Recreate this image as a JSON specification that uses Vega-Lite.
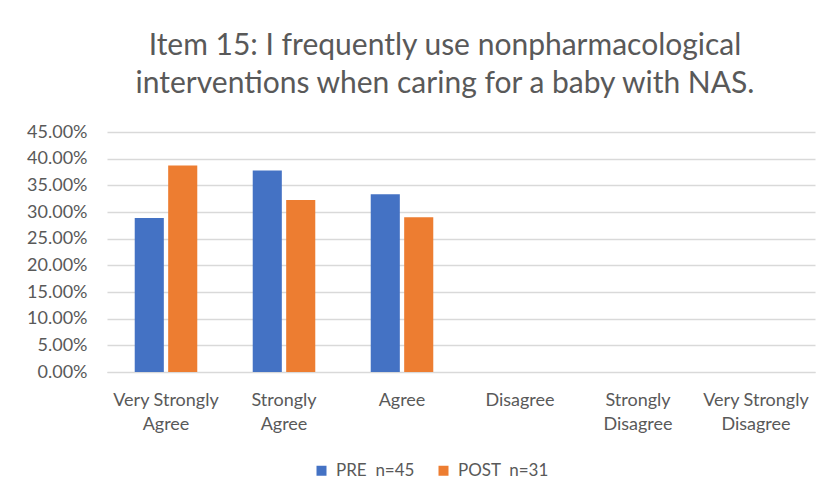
{
  "$schema": "https://vega.github.io/schema/vega-lite/v6.json",
  "autosize": "none",
  "width": 708,
  "height": 240,
  "padding": {"left": 107, "top": 132, "right": 18, "bottom": 129},
  "background": "white",
  "title": {
    "text": ["Item 15: I frequently use nonpharmacological", "interventions when caring for a baby with NAS."],
    "font": "Lato",
    "fontSize": 30,
    "fontWeight": "normal",
    "color": "#595959",
    "lineHeight": 38,
    "anchor": "middle",
    "dx": -16,
    "offset": 24
  },
  "data": {
    "values": [
      {"response": "Very Strongly Agree", "group": "PRE\u00a0 n=45", "pct": 0.2889},
      {"response": "Very Strongly Agree", "group": "POST\u00a0 n=31", "pct": 0.3871},
      {"response": "Strongly Agree", "group": "PRE\u00a0 n=45", "pct": 0.3778},
      {"response": "Strongly Agree", "group": "POST\u00a0 n=31", "pct": 0.3226},
      {"response": "Agree", "group": "PRE\u00a0 n=45", "pct": 0.3333},
      {"response": "Agree", "group": "POST\u00a0 n=31", "pct": 0.2903},
      {"response": "Disagree", "group": "PRE\u00a0 n=45", "pct": 0},
      {"response": "Disagree", "group": "POST\u00a0 n=31", "pct": 0},
      {"response": "Strongly Disagree", "group": "PRE\u00a0 n=45", "pct": 0},
      {"response": "Strongly Disagree", "group": "POST\u00a0 n=31", "pct": 0},
      {"response": "Very Strongly Disagree", "group": "PRE\u00a0 n=45", "pct": 0},
      {"response": "Very Strongly Disagree", "group": "POST\u00a0 n=31", "pct": 0}
    ]
  },
  "mark": {"type": "bar"},
  "encoding": {
    "x": {
      "field": "response",
      "type": "nominal",
      "sort": ["Very Strongly Agree", "Strongly Agree", "Agree", "Disagree", "Strongly Disagree", "Very Strongly Disagree"],
      "scale": {"paddingInner": 0.47, "paddingOuter": 0.235},
      "axis": {
        "title": null,
        "labelAngle": 0,
        "labelFont": "Lato",
        "labelFontSize": 18,
        "labelColor": "#595959",
        "labelLineHeight": 24,
        "labelPadding": 19,
        "ticks": false,
        "domainColor": "#d9d9d9",
        "labelExpr": "datum.value == 'Very Strongly Agree' ? ['Very Strongly', 'Agree'] : datum.value == 'Strongly Agree' ? ['Strongly', 'Agree'] : datum.value == 'Strongly Disagree' ? ['Strongly', 'Disagree'] : datum.value == 'Very Strongly Disagree' ? ['Very Strongly', 'Disagree'] : datum.value"
      }
    },
    "xOffset": {
      "field": "group",
      "type": "nominal",
      "sort": ["PRE\u00a0 n=45", "POST\u00a0 n=31"],
      "scale": {"paddingInner": 0.13}
    },
    "y": {
      "field": "pct",
      "type": "quantitative",
      "scale": {"domain": [0, 0.45]},
      "axis": {
        "title": null,
        "format": ".2%",
        "values": [0, 0.05, 0.1, 0.15, 0.2, 0.25, 0.3, 0.35, 0.4, 0.45],
        "labelFont": "Lato",
        "labelFontSize": 18,
        "labelColor": "#595959",
        "labelPadding": 20,
        "ticks": false,
        "domain": false,
        "gridColor": "#d9d9d9",
        "gridWidth": 1.5
      }
    },
    "color": {
      "field": "group",
      "type": "nominal",
      "sort": ["PRE\u00a0 n=45", "POST\u00a0 n=31"],
      "scale": {"domain": ["PRE\u00a0 n=45", "POST\u00a0 n=31"], "range": ["#4472C4", "#ED7D31"]},
      "legend": {
        "title": null,
        "orient": "none",
        "direction": "horizontal",
        "legendX": 206,
        "legendY": 330,
        "symbolType": "square",
        "symbolSize": 100,
        "symbolStrokeWidth": 0,
        "labelFont": "Lato",
        "labelFontSize": 17,
        "labelColor": "#595959",
        "columnPadding": 20,
        "labelOffset": 6
      }
    }
  },
  "config": {"view": {"stroke": null}}
}
